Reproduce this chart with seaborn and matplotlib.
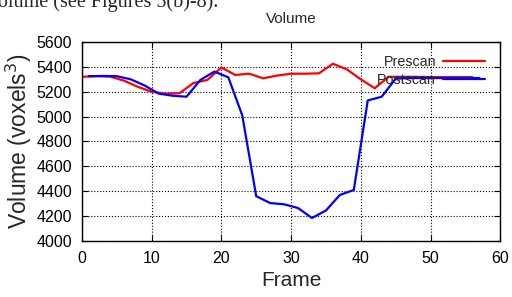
import pandas as pd
import seaborn as sns
import matplotlib.pyplot as plt

# frames and volumes
pre_frames = [0, 2, 4, 6, 8, 10, 12, 14, 16, 18, 20, 22, 24, 26, 28,
              30, 32, 34, 36, 38, 40, 42, 44, 46, 48, 50, 52, 54, 56]
pre_volume = [5320, 5325, 5322, 5290, 5240, 5200, 5185, 5188, 5270, 5295,
              5395, 5335, 5345, 5308, 5330, 5345, 5345, 5348, 5425, 5380,
              5300, 5228, 5320, 5320, 5320, 5318, 5318, 5318, 5318]

post_frames = [1, 3, 5, 7, 9, 11, 13, 15, 17, 19, 21, 23, 25, 27, 29,
               31, 33, 35, 37, 39, 41, 43, 45, 47, 49, 51, 53, 55, 57]
post_volume = [5325, 5327, 5325, 5300, 5250, 5185, 5168, 5160, 5295, 5362,
               5316, 5010, 4360, 4305, 4295, 4265, 4185, 4245, 4370, 4410,
               5130, 5160, 5305, 5310, 5310, 5310, 5310, 5310, 5310]

df = pd.concat([
    pd.DataFrame({"Frame": pre_frames, "Volume": pre_volume, "Scan": "Prescan"}),
    pd.DataFrame({"Frame": post_frames, "Volume": post_volume, "Scan": "Postscan"}),
])

sns.set_style("ticks")
plt.rcParams['font.family'] = ['Liberation Sans', 'DejaVu Sans']

fig = plt.figure(figsize=(5.12, 2.97), dpi=100)
ax = fig.add_axes([0.160, 0.1886, 0.817, 0.670])

sns.lineplot(data=df, x="Frame", y="Volume", hue="Scan",
             palette={"Prescan": "#ff0000", "Postscan": "#0000ff"},
             linewidth=1.6, ax=ax)

ax.set_xlim(0, 60)
ax.set_ylim(4000, 5600)
ax.set_xticks(range(0, 61, 10))
ax.set_yticks(range(4000, 5601, 200))
ax.tick_params(direction='in', top=True, right=True, length=4,
               labelsize=11.5, width=0.8, colors='black', pad=7)
ax.grid(True, linestyle=':', color='black', linewidth=0.8)
for s in ax.spines.values():
    s.set_color('black')
    s.set_linewidth(1.0)

ax.set_xlabel("Frame", fontsize=15, labelpad=4)
ax.set_ylabel("Volume (voxels$^3$)", fontsize=16.5, labelpad=2)
ax.set_title("Volume", fontsize=11, pad=14)

ax.legend(loc='upper right', bbox_to_anchor=(0.98, 0.97), frameon=False,
          markerfirst=False, handlelength=2.9, fontsize=10.3,
          labelspacing=0.25, borderpad=0, handletextpad=0.5)

# clipped sentence from the page above the figure
fig.text(-0.028, 1 - 7.5 / 297, "Volume (see Figures 5(b)-8).",
         fontsize=14.5, family='Liberation Serif', va='baseline', ha='left')

fig.savefig("out.png", dpi=100)
